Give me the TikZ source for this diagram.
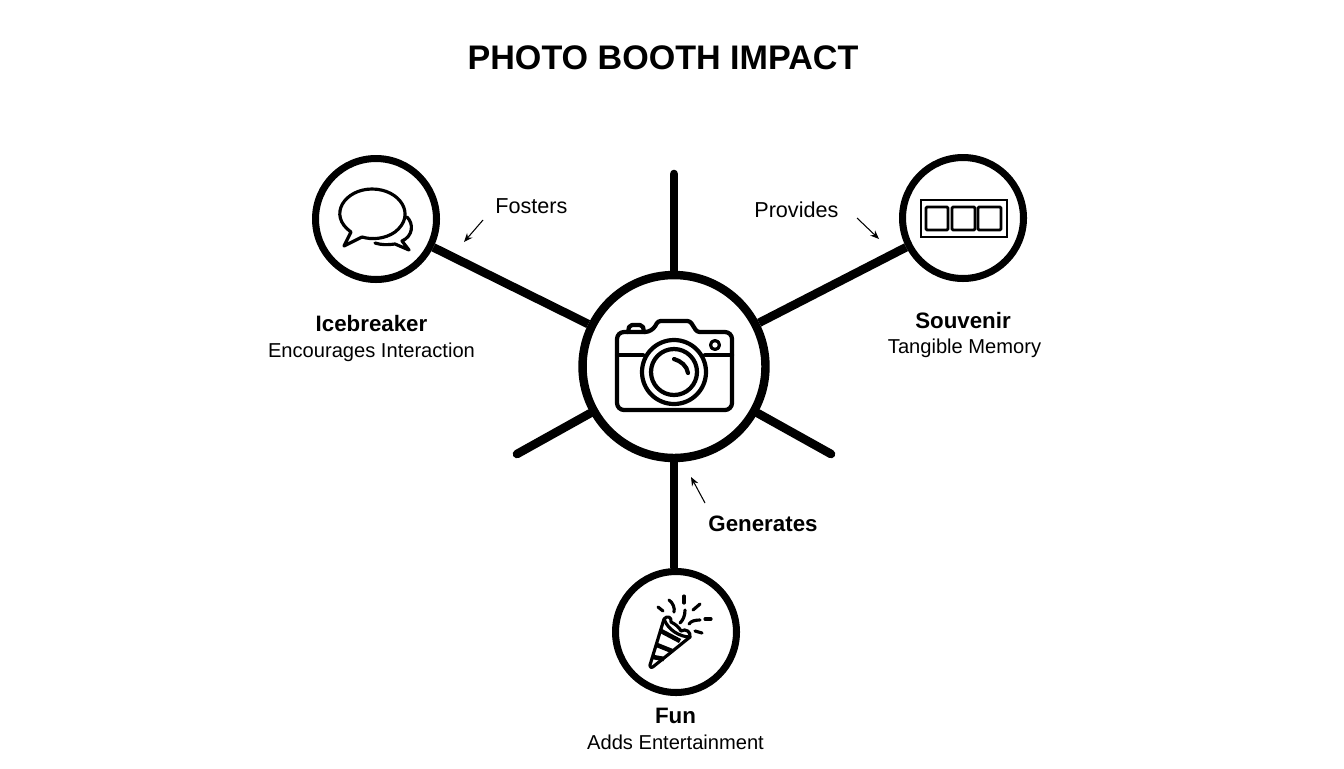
\documentclass[tikz,border=0pt]{standalone}
\usepackage{fontspec}
\setmainfont{Liberation Sans}
\usetikzlibrary{positioning,arrows.meta,calc}
\newcommand\labelfontsize{\fontsize{11.45}{13}\selectfont}
\begin{document}
\begin{tikzpicture}[
  x=0.02cm, y=-0.02cm,
  font={\labelfontsize},
  hubcircle/.style={circle,draw,fill=white,line width=4.8pt,minimum size=3.66cm,inner sep=0pt},
  leafcircle/.style={circle,draw,fill=white,line width=4pt,minimum size=2.42cm,inner sep=0pt},
  spoke/.style={line width=4.9pt,line cap=round},
  hint/.style={-{Stealth[length=5pt,width=4pt]},line width=0.6pt},
  icon/.style={line width=2.4pt,line join=round,line cap=round},
  thinicon/.style={line width=1.8pt,line join=round,line cap=round},
  headline/.style={font={\fontsize{19.4}{21}\selectfont\bfseries}},
  heading/.style={font={\fontsize{12.7}{14}\selectfont\bfseries}},
  remark/.style={font={\fontsize{12.3}{14}\selectfont},anchor=west,inner xsep=0pt},
]

  \useasboundingbox (0,0) rectangle (1344,768);
  \fill[white] (0,0) rectangle (1344,768);

  \node[headline] (title) at (663,58) {PHOTO BOOTH IMPACT};

  % Circles
  \node[hubcircle] (hub) at (674,366.5) {};
  \node[leafcircle] (icebreaker) at (376,219) {};
  \node[leafcircle] (souvenir) at (963,218) {};
  \node[leafcircle] (fun) at (676,632) {};

  % Free ends of the stubs and the small arrows
  \coordinate (stubtop) at (674,174);
  \coordinate (stubleft) at (517,454);
  \coordinate (stubright) at (831,454);
  \coordinate (fostersfrom) at (483,220);
  \coordinate (fostersto) at (464,242);
  \coordinate (providesfrom) at (857,218);
  \coordinate (providesto) at (879,239);
  \coordinate (generatesfrom) at (705,503);
  \coordinate (generatesto) at (691,477);

  \draw[spoke] (hub) -- (stubtop);
  \draw[spoke] (hub) -- (stubleft);
  \draw[spoke] (hub) -- (stubright);
  \draw[spoke,line cap=butt] (hub) -- (icebreaker);
  \draw[spoke,line cap=butt] (hub) -- (souvenir);
  \draw[spoke,line cap=butt] (hub.south) -- (hub.south |- fun.north);

  \draw[hint] (fostersfrom) -- (fostersto);
  \draw[hint] (providesfrom) -- (providesto);
  \draw[hint] (generatesfrom) -- (generatesto);

  % Labels
  \node[remark] (fosters) at (495,206.5) {Fosters};
  \node[remark] (provides) at (754,209.5) {Provides};
  \node[heading] (generates) at (763,523.5) {Generates};
  \node[heading] (icename) at (371.5,324) {Icebreaker};
  \node (icetext) at (371.5,352) {Encourages Interaction};
  \node[heading] (souvname) at (963,321) {Souvenir};
  \node (souvtext) at (964.5,348) {Tangible Memory};
  \node[heading] (funname) at (675.5,716) {Fun};
  \node (funtext) at (675.5,742) {Adds Entertainment};

  % Camera
  \draw[icon,rounded corners=1.5pt] (652,332) -- (658,321) -- (690,321) -- (697,332)
    [rounded corners=4pt] -- (732,332) -- (732,410) -- (617,410) -- (617,332) -- cycle;
  \draw[icon] (628,332) -- (629,327) -- (632,325) -- (640,325) -- (643,327) -- (644,332);
  \draw[icon] (617,355) -- (643,355);
  \draw[icon] (705,355) -- (732,355);
  \draw[icon] (674,372) circle[radius=32];
  \draw[icon] (674,372) circle[radius=23];
  \draw[icon] (674,359) .. controls (681,361) and (687,366) .. (688,373);
  \draw[thinicon] (715,345) circle[radius=4.5];

  % Speech bubbles
  \draw[thinicon] (351,232) .. controls (327,215) and (345,189) .. (372,189)
    .. controls (400,189) and (417,215) .. (395,232)
    .. controls (385,239) and (372,240) .. (362,237) -- (344,246) -- cycle;
  \draw[thinicon] (407,217) .. controls (414,224) and (413,236) .. (402,241)
    -- (409,250) -- (395,244) .. controls (388,245) and (381,245) .. (375,243);

  % Film strip
  \draw[thinicon,line width=1.5pt,line cap=butt,line join=miter] (921,200) rectangle (1007,237);
  \draw[thinicon,line width=1.6pt,rounded corners=0.6pt] (926,207) rectangle (948,230);
  \draw[thinicon,line width=1.6pt,rounded corners=0.6pt] (952,207) rectangle (975,230);
  \draw[thinicon,line width=1.6pt,rounded corners=0.6pt] (978,207) rectangle (1001,230);

  % Party popper
  \draw[thinicon] (664,619) -- (650,665) .. controls (650,668) and (652,668) .. (654,666) -- (690,637);
  \draw[thinicon] (664,619) .. controls (667,615) and (672,617) .. (671,622)
    .. controls (675,624) and (679,627) .. (681,631)
    .. controls (686,628) and (691,632) .. (690,637) .. controls (680,637) and (668,630) .. (664,619);
  \draw[icon,line width=2.6pt,line cap=butt] (661,631) -- (680,641);
  \draw[icon,line width=2.6pt,line cap=butt] (657,645) -- (672,651);
  \draw[icon,line width=2.6pt,line cap=butt] (653,657) -- (664,659);
  \draw[thinicon] (658,607) -- (663,611);
  \draw[thinicon] (684,596) -- (684,603);
  \draw[thinicon] (693,610) -- (700,604);
  \draw[thinicon] (705,619) -- (711,619);
  \draw[thinicon] (695,631) -- (702,633);
  \draw[thinicon] (669,600) .. controls (673,603) and (675,608) .. (674,612);
  \draw[thinicon] (685,610) .. controls (685,616) and (683,620) .. (680,623);
  \draw[thinicon] (689,624) .. controls (691,621) and (695,620) .. (700,620);

\end{tikzpicture}
\end{document}
